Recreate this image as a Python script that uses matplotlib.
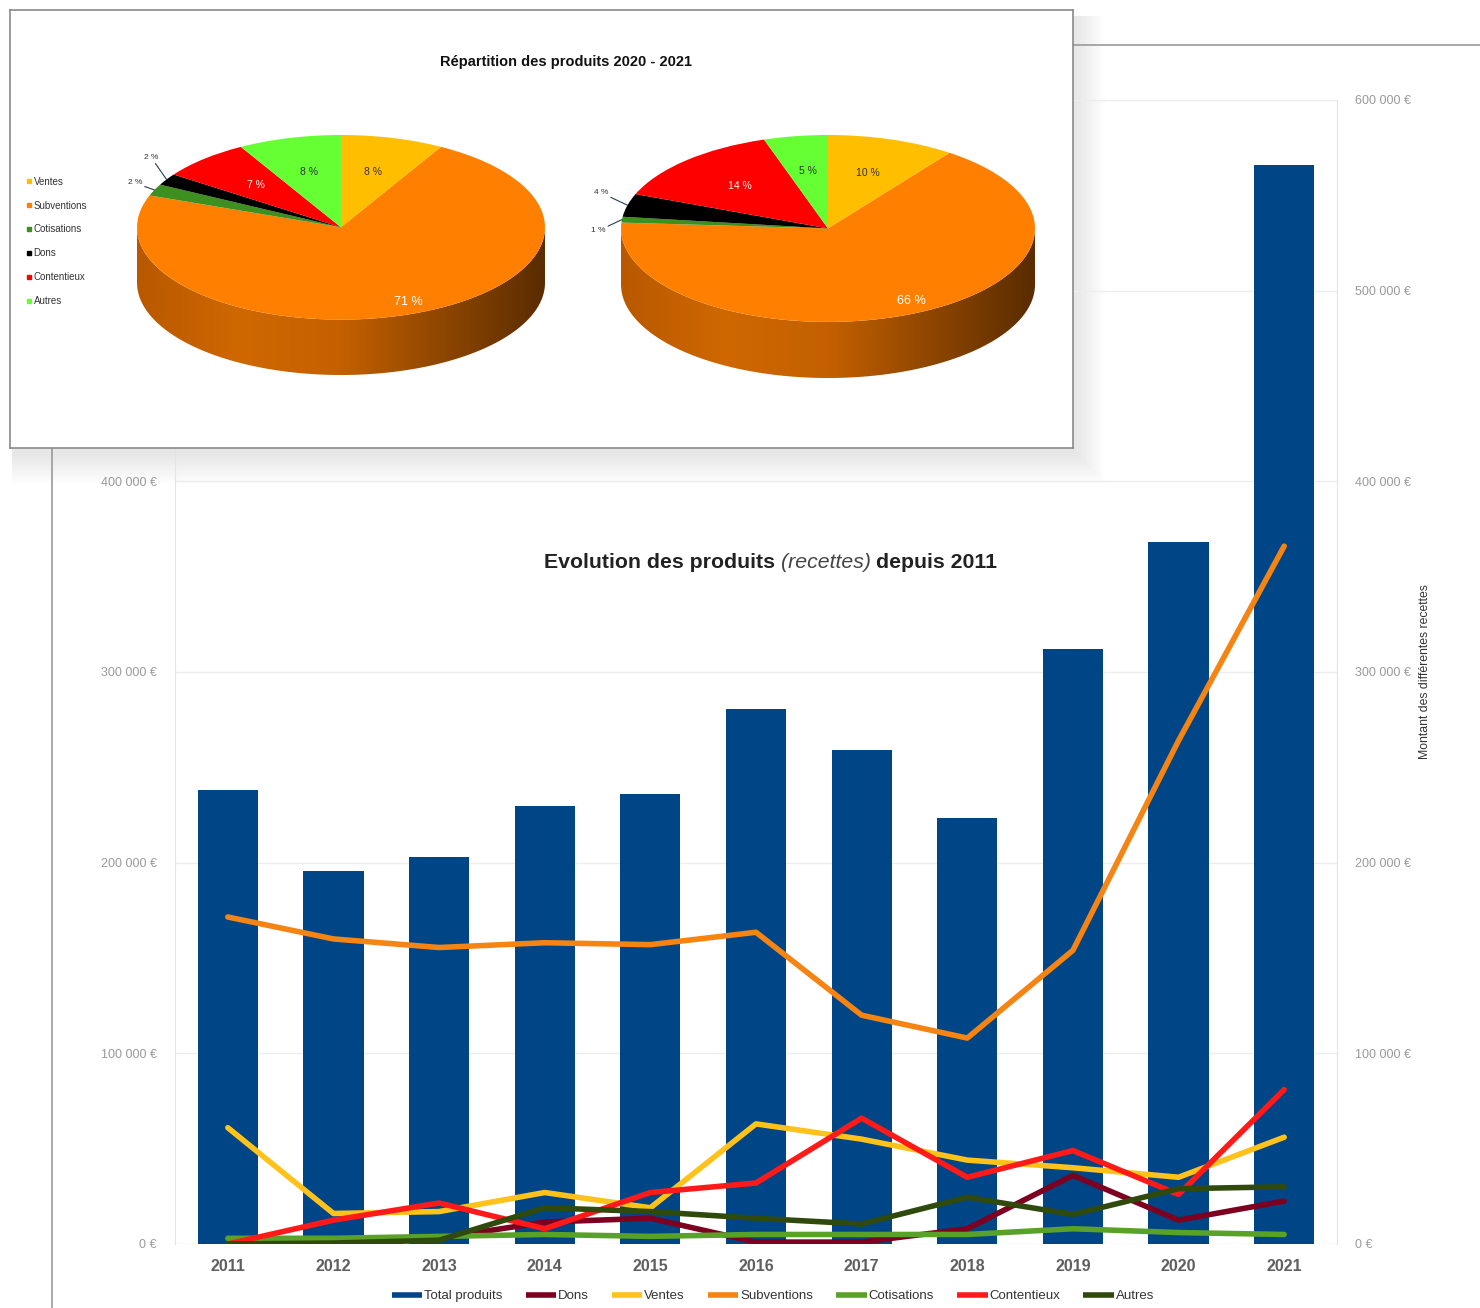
import numpy as np
import matplotlib
matplotlib.use("Agg")
import matplotlib.pyplot as plt
from matplotlib.patches import Polygon, Rectangle
from matplotlib.lines import Line2D
from matplotlib.colors import LinearSegmentedColormap
from matplotlib.ticker import FuncFormatter

plt.rcParams['font.family'] = ['Liberation Sans', 'DejaVu Sans']

# ---- data: main chart ----
years = ['2011', '2012', '2013', '2014', '2015', '2016', '2017', '2018', '2019', '2020', '2021']
total = [238000, 195500, 203000, 229500, 236000, 280500, 259000, 223500, 312000, 368000, 566000]
dons = [0, 2000, 3000, 11500, 13500, 1000, 1000, 8000, 36000, 12500, 22500]
ventes = [61000, 16000, 17000, 27000, 19000, 63000, 55000, 44000, 40000, 35000, 56000]
subventions = [171500, 160000, 155500, 158000, 157000, 163500, 120000, 108000, 154000, 264000, 366000]
cotisations = [3000, 3000, 4000, 5000, 4000, 5000, 5000, 5000, 8000, 6000, 5000]
contentieux = [0, 12500, 21500, 8000, 27000, 32000, 66000, 35000, 49000, 26000, 81000]
autres = [0, 500, 2000, 19000, 17000, 13500, 10500, 24500, 15500, 29000, 30000]

# ---- data: pies ----
pie_labels = ['Ventes', 'Subventions', 'Cotisations', 'Dons', 'Contentieux', 'Autres']
pie_2020 = [8, 71, 2, 2, 7, 8]
pie_2021 = [10, 66, 1, 4, 14, 5]

W, H = 1480, 1308
fig = plt.figure(figsize=(W / 100, H / 100), dpi=100)


def box(x0, y0, x1, y1):
    return [x0 / W, 1 - y1 / H, (x1 - x0) / W, (y1 - y0) / H]


# background layer in pixel coords
bg = fig.add_axes([0, 0, 1, 1])
bg.set_xlim(0, W)
bg.set_ylim(H, 0)
bg.axis('off')
bg.set_zorder(0)
bg.plot([52, 52, W], [H, 45, 45], color='#9a9a9a', lw=1.2)
# soft shadow of the inset panel
for i in range(12):
    g = 2 + i * 2.5
    bg.add_patch(Rectangle((10 + 2, 10 + 6), 1063 + g, 438 + g,
                           facecolor='black', alpha=0.006, edgecolor='none'))

# ---- main chart ----
ax = fig.add_axes(box(175, 100, 1337, 1244))
ax.set_zorder(1)
ax.set_facecolor('none')
x = np.arange(len(years))
ax.bar(x, total, width=0.57, color='#004586', zorder=2)

series = [
    (dons, '#7e0021', 'Dons'),
    (ventes, '#ffc21a', 'Ventes'),
    (subventions, '#f58412', 'Subventions'),
    (cotisations, '#5aa128', 'Cotisations'),
    (contentieux, '#ff1a1a', 'Contentieux'),
    (autres, '#2f4a0c', 'Autres'),
]
for vals, col, lab in series:
    ax.plot(x, vals, color=col, lw=4, solid_joinstyle='round', solid_capstyle='round', zorder=3)

ax.set_xlim(-0.5, len(years) - 0.5)
ax.set_ylim(0, 600000)
ax.set_yticks(np.arange(0, 600001, 100000))
ax.yaxis.set_major_formatter(FuncFormatter(lambda v, p: f"{int(v):,} €".replace(',', ' ')))
ax.set_xticks(x)
ax.set_xticklabels(years)
ax.tick_params(axis='y', length=0, pad=13, labelsize=9, labelcolor='#9a9a9a',
               labelright=True)
ax.tick_params(axis='x', length=0, pad=11, labelsize=11.5, labelcolor='#5f5f5f')
for t in ax.get_xticklabels():
    t.set_fontweight('bold')
ax.grid(axis='y', color='#ededed', lw=1, zorder=0)
ax.set_axisbelow(True)
for s in ['top', 'bottom']:
    ax.spines[s].set_visible(False)
for s in ['left', 'right']:
    ax.spines[s].set_color('#e4e4e4')

# title with italic part
t1 = ax.text(0.3176, 0.587, "Evolution des produits", transform=ax.transAxes,
             fontsize=15.3, fontweight='bold', color='#222', ha='left', va='bottom')
t2 = ax.annotate("(recettes)", xy=(1, 0), xycoords=t1, xytext=(4, 0), textcoords='offset points',
                 fontsize=15.3, fontstyle='italic', color='#444', ha='left', va='bottom')
ax.annotate("depuis 2011", xy=(1, 0), xycoords=t2, xytext=(4, 0), textcoords='offset points',
            fontsize=15.3, fontweight='bold', color='#222', ha='left', va='bottom')

fig.text(1425 / W, 1 - 672 / H, "Montant des différentes recettes", rotation=90,
         fontsize=8.8, color='#333', ha='center', va='center')

handles = [Line2D([], [], color='#004586', lw=4, solid_capstyle='butt')] + \
          [Line2D([], [], color=c, lw=4, solid_capstyle='butt') for _, c, _ in series]
labels = ['Total produits'] + [lab for _, _, lab in series]
ax.legend(handles, labels, loc='center', bbox_to_anchor=(773 / W, 1 - 1296 / H),
          bbox_transform=fig.transFigure, ncol=7, frameon=False, fontsize=9.5,
          handlelength=2.3, handletextpad=0.15, columnspacing=1.75, labelcolor='#333')

# ---- inset pie panel ----
panel = fig.add_axes(box(10, 10, 1073, 448))
panel.set_zorder(5)
panel.set_xlim(10, 1073)
panel.set_ylim(448, 10)
panel.set_xticks([])
panel.set_yticks([])
panel.set_facecolor('white')
for s in panel.spines.values():
    s.set_color('#8a8a8a')
    s.set_linewidth(1.2)
panel.text(566, 62, "Répartition des produits 2020 - 2021", fontsize=10.5, fontweight='bold',
           color='#111', ha='center', va='center')

pie_colors = ['#ffbf00', '#ff8000', '#3d8f1f', '#000000', '#ff0000', '#66ff33']
leg_h = [Line2D([], [], marker='s', ls='none', color=c, markersize=3.5) for c in pie_colors]
panel.legend(leg_h, pie_labels, loc='upper left', bbox_to_anchor=(12 / 1063, 1 - 163 / 438),
             frameon=False, fontsize=7, handlelength=0.6, handletextpad=0.2,
             labelspacing=1.42, labelcolor='#333', borderaxespad=0)

side_cmap = LinearSegmentedColormap.from_list(
    'side', ['#b85800', '#cf6800', '#c46000', '#8e4600', '#5a2c00'])
D = 0.6


def draw_pie(pbox, shares, big_r, small_offsets):
    pa = fig.add_axes(box(*pbox))
    pa.set_zorder(6)
    # cylinder side
    t = np.linspace(np.pi, 2 * np.pi, 200)
    xs = np.concatenate([np.cos(t), np.cos(t[::-1])])
    ys = np.concatenate([np.sin(t), np.sin(t[::-1]) - D])
    side = Polygon(np.column_stack([xs, ys]), closed=True, facecolor='none', edgecolor='none')
    pa.add_patch(side)
    grad = np.linspace(0, 1, 256).reshape(1, -1)
    im = pa.imshow(grad, cmap=side_cmap, extent=[-1, 1, -1 - D, 0], aspect='auto', zorder=0)
    im.set_clip_path(side)
    wedges, _ = pa.pie(shares, colors=pie_colors, startangle=90, counterclock=False,
                       wedgeprops=dict(linewidth=0))
    pa.set_aspect('auto')
    pa.set_xlim(-1, 1)
    pa.set_ylim(-1 - D, 1)
    pa.axis('off')
    for i, w in enumerate(wedges):
        mid = np.deg2rad((w.theta1 + w.theta2) / 2)
        txt = f"{shares[i]} %"
        if i == 1:
            pa.text(big_r * np.cos(mid), big_r * np.sin(mid) + 0.08, txt, color='white',
                    fontsize=9, ha='center', va='center')
        elif i in (2, 3):
            dx, dy = small_offsets[i]
            pa.annotate(txt, xy=(np.cos(mid), np.sin(mid)), xytext=(dx, dy),
                        textcoords='offset points', fontsize=6, color='#333',
                        ha='right', va='center',
                        arrowprops=dict(arrowstyle='-', color='#2a3a55', lw=0.8,
                                        shrinkA=0, shrinkB=0))
        else:
            c = 'white' if i == 4 else '#333'
            pa.text(0.62 * np.cos(mid), 0.62 * np.sin(mid), txt, color=c,
                    fontsize=7.5, ha='center', va='center')


draw_pie((137, 135, 545, 375), pie_2020, 0.95, {2: (-9, 5), 3: (-6, 16)})
draw_pie((621, 135, 1035, 378), pie_2021, 0.95, {2: (-12, -8), 3: (-14, 9)})

fig.savefig('out.png', dpi=100)
